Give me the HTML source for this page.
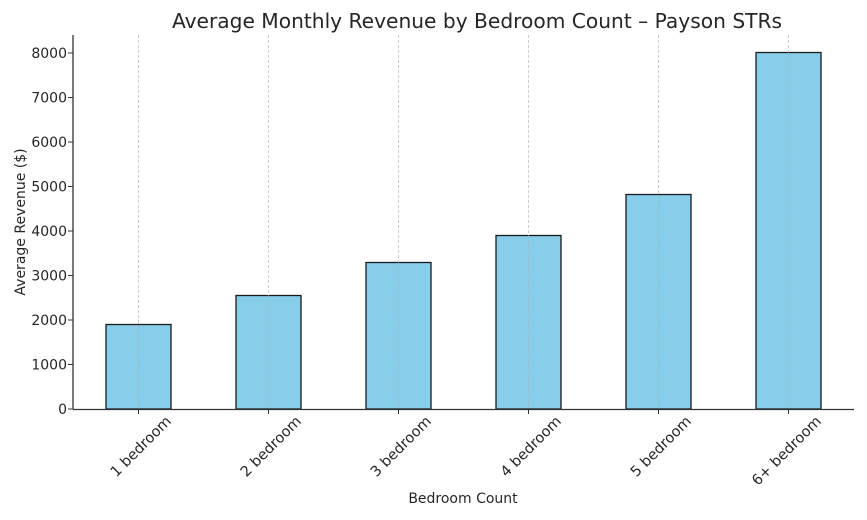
<!DOCTYPE html>
<html><head><meta charset="utf-8"><style>html,body{margin:0;padding:0;background:#fff}svg{display:block}text{font-family:"DejaVu Sans","Liberation Sans",sans-serif;fill:#262626}</style></head>
<body>
<svg width="867" height="520" viewBox="0 0 867 520" xmlns="http://www.w3.org/2000/svg">
<rect width="867" height="520" fill="#fff"/>
<text x="477" y="28" font-size="20.2" text-anchor="middle">Average Monthly Revenue by Bedroom Count – Payson STRs</text>
<g fill="#87ceeb" stroke="#1a1a1a" stroke-width="1.3">
<rect x="106" y="324.5" width="65" height="84.5"/>
<rect x="236" y="295.5" width="65" height="113.5"/>
<rect x="366" y="262.5" width="65" height="146.5"/>
<rect x="496" y="235.5" width="65" height="173.5"/>
<rect x="626" y="194.5" width="65" height="214.5"/>
<rect x="756" y="52.5" width="65" height="356.5"/>
</g>
<g stroke="#b0b0b0" stroke-width="0.8" stroke-dasharray="3,2" opacity="0.8">
<line x1="138.5" y1="35" x2="138.5" y2="409"/>
<line x1="268.5" y1="35" x2="268.5" y2="409"/>
<line x1="398.5" y1="35" x2="398.5" y2="409"/>
<line x1="528.5" y1="35" x2="528.5" y2="409"/>
<line x1="658.5" y1="35" x2="658.5" y2="409"/>
<line x1="788.5" y1="35" x2="788.5" y2="409"/>
</g>
<g stroke="#333" stroke-width="1.3">
<line x1="73" y1="35" x2="73" y2="409.5"/>
<line x1="73" y1="409.5" x2="854" y2="409.5"/>
</g>
<g stroke="#333" stroke-width="1">
<line x1="68" y1="409" x2="73" y2="409"/><line x1="68" y1="364.5" x2="73" y2="364.5"/>
<line x1="68" y1="320" x2="73" y2="320"/><line x1="68" y1="275.5" x2="73" y2="275.5"/>
<line x1="68" y1="231" x2="73" y2="231"/><line x1="68" y1="186.5" x2="73" y2="186.5"/>
<line x1="68" y1="142" x2="73" y2="142"/><line x1="68" y1="97.5" x2="73" y2="97.5"/>
<line x1="68" y1="53" x2="73" y2="53"/>
<line x1="138.5" y1="409" x2="138.5" y2="414"/><line x1="268.5" y1="409" x2="268.5" y2="414"/>
<line x1="398.5" y1="409" x2="398.5" y2="414"/><line x1="528.5" y1="409" x2="528.5" y2="414"/>
<line x1="658.5" y1="409" x2="658.5" y2="414"/><line x1="788.5" y1="409" x2="788.5" y2="414"/>
</g>
<g font-size="14" text-anchor="end">
<text x="67" y="414">0</text><text x="67" y="369.5">1000</text><text x="67" y="325">2000</text>
<text x="67" y="280.5">3000</text><text x="67" y="236">4000</text><text x="67" y="191.5">5000</text>
<text x="67" y="147">6000</text><text x="67" y="102.5">7000</text><text x="67" y="58">8000</text>
</g>
<g font-size="14.5" text-anchor="end">
<text transform="translate(172,422) rotate(-45)">1 bedroom</text>
<text transform="translate(302,422) rotate(-45)">2 bedroom</text>
<text transform="translate(432,422) rotate(-45)">3 bedroom</text>
<text transform="translate(562,422) rotate(-45)">4 bedroom</text>
<text transform="translate(692,422) rotate(-45)">5 bedroom</text>
<text transform="translate(822,422) rotate(-45)">6+ bedroom</text>
</g>
<text x="463" y="503" font-size="14" text-anchor="middle">Bedroom Count</text>
<text transform="translate(25,222) rotate(-90)" font-size="14" text-anchor="middle">Average Revenue ($)</text>
</svg>
</body></html>
